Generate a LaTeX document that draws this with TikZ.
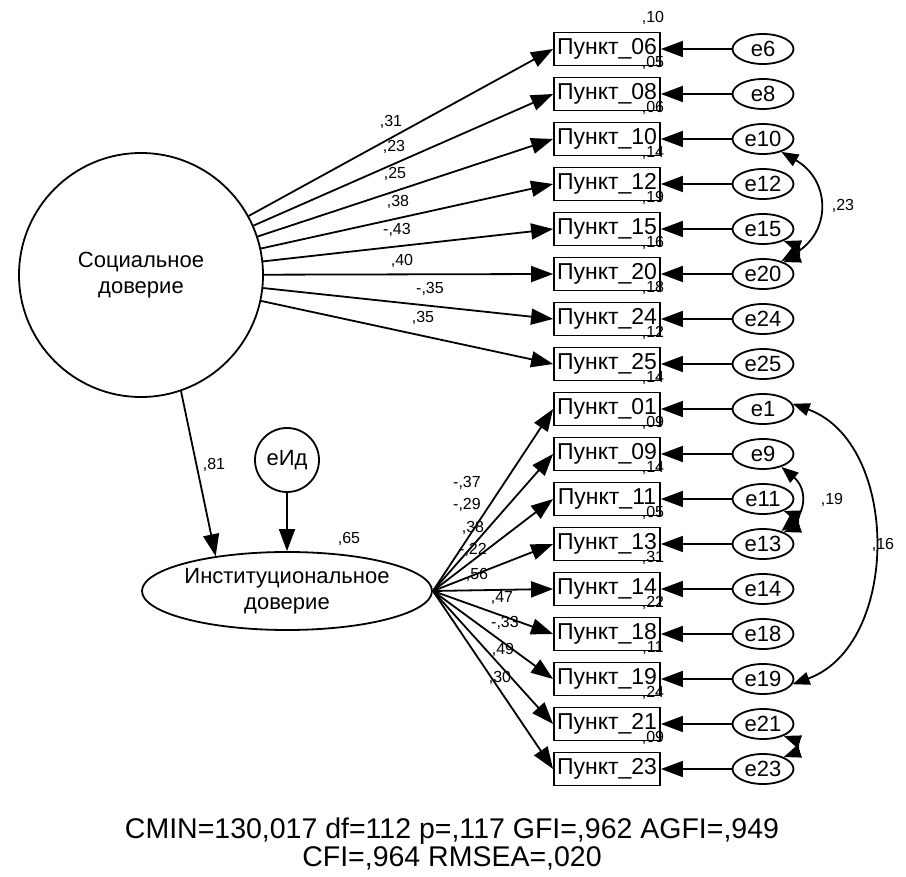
\documentclass[tikz,border=0pt]{standalone}
\usepackage{fontspec}
\setmainfont{Liberation Sans}
\usetikzlibrary{arrows.meta,shapes.geometric}
\newcommand\bigf{\fontsize{23pt}{26pt}\selectfont}
\newcommand\latf{\fontsize{22pt}{26pt}\selectfont}
\newcommand\smf{\fontsize{16pt}{19pt}\selectfont}
\newcommand\botf{\fontsize{28.5pt}{28pt}\selectfont}
\tikzset{
  ln/.style={line width=1.8pt},
  arr/.style={ln,-{Triangle[length=22pt,width=16pt]}},
  cov/.style={ln,{Triangle[length=17pt,width=13pt]}-{Triangle[length=17pt,width=13pt]}},
  obs/.style={draw,ln,rectangle,minimum width=106pt,minimum height=33pt,inner sep=0pt,font=\bigf},
  err/.style={draw,ln,ellipse,minimum width=61pt,minimum height=30pt,inner sep=0pt,font=\latf},
  lat/.style={draw,ln,align=center,font=\latf,inner sep=0pt},
  num/.style={font=\smf,inner sep=0pt},
}
\begin{document}
\begin{tikzpicture}[x=1pt,y=1pt]
\useasboundingbox[fill=white] (0,0) rectangle (906,-877);
% latent variables
\node[lat,circle,minimum size=244pt] (soc) at (141,-275) {Социальное\\доверие};
\node[lat,ellipse,minimum width=274pt,minimum height=78pt] (inst) at (287,-591) {Институциональное\\доверие};
\node[lat,circle,minimum size=64pt] (eid) at (287,-460) {eИд};
% observed items and their errors
\foreach \n/\y in {06/49,08/94,10/139,12/184,15/229,20/274,24/319,25/364,01/409,09/454,11/499,13/544,14/589,18/634,19/679,21/724,23/769}{
  \node[obs] (p\n) at (607,-\y) {Пункт\_\n};
  \pgfmathtruncatemacro\en{\n}
  \node[err] (e\n) at (763,-\y) {e\en};
  \draw[arr] (e\n) -- (p\n);
}
% squared multiple correlations
\foreach \n/\r in {06/{,10},08/{,05},10/{,06},12/{,14},15/{,19},20/{,16},24/{,18},25/{,12},01/{,14},09/{,09},11/{,14},13/{,05},14/{,31},18/{,22},19/{,11},21/{,24},23/{,09}}{
  \node[num] at ([shift={(46pt,31pt)}]p\n.center) {\r};
}
% loadings: social trust
\foreach \n in {06,08,10,12,15,20,24,25}{
  \draw[arr] (soc) -- (p\n.west);
}
\node[num] at (391,-122) {,31};
\node[num] at (394,-147) {,23};
\node[num] at (395,-174) {,25};
\node[num] at (398,-202) {,38};
\node[num] at (397,-230) {-,43};
\node[num] at (402,-261) {,40};
\node[num] at (430,-289) {-,35};
\node[num] at (423,-318) {,35};
% loadings: institutional trust
\foreach \n in {01,09,11,13,14,18,19,21,23}{
  \draw[arr] (inst.east) -- (p\n.west);
}
\node[num] at (467,-483) {-,37};
\node[num] at (467,-505) {-,29};
\node[num] at (473,-528) {,38};
\node[num] at (473,-550) {-,22};
\node[num] at (477,-575) {,56};
\node[num] at (502,-598) {,47};
\node[num] at (505,-623) {-,33};
\node[num] at (503,-650) {,49};
\node[num] at (500,-678) {,30};
% structural paths
\draw[arr] (soc.-71) -- (inst.154);
\draw[arr] (eid) -- (inst);
\node[num] at (214,-465) {,81};
\node[num] at (349,-539) {,65};
% covariances
\draw[cov] (e10.-35) to[out=-30,in=30,looseness=1.35] (e20.35);
\draw[cov] (e15.-30) to[out=-20,in=20,looseness=2] (e20.30);
\draw[cov] (e09.-35) to[out=-40,in=40,looseness=1.3] (e13.35);
\draw[cov] (e11.-30) to[out=-20,in=20,looseness=1.8] (e13.30);
\draw[cov] (e01.10) to[out=-20,in=20,looseness=1.05] (e19.-10);
\draw[cov] (e21.-30) to[out=-20,in=20,looseness=1.8] (e23.30);
\node[num] at (843,-206) {,23};
\node[num] at (832,-500) {,19};
\node[num] at (883,-545) {,16};
% fit statistics
\node[font=\botf,align=center,inner sep=0pt] (fit) at (452,-844) {CMIN=130,017 df=112 p=,117 GFI=,962 AGFI=,949\\CFI=,964 RMSEA=,020};
\end{tikzpicture}
\end{document}
